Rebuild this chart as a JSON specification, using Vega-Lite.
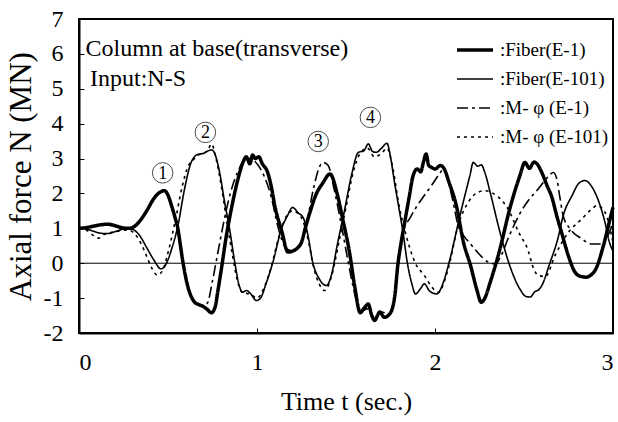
{
"$schema":"https://vega.github.io/schema/vega-lite/v6.json",
"width":534,"height":314,
"autosize":"none",
"padding":{"left":79,"top":19,"right":5,"bottom":89},
"background":"white",
"config":{
 "view":{"stroke":"black","strokeWidth":2},
 "font":"Liberation Serif",
 "axis":{"domainColor":"black","domainWidth":2,"tickColor":"black","labelColor":"black","titleColor":"black","grid":false,"labelFont":"Liberation Serif","titleFont":"Liberation Serif","titleFontWeight":"normal","labelFontSize":24,"titleFontSize":26,"tickSize":-5,"tickWidth":1,"labelOverlap":false,"labelSeparation":-20}
},
"datasets":{
 "circ":[{"t":0.47,"N":2.59,"k":"1"},{"t":0.71,"N":3.75,"k":"2"},{"t":1.344,"N":3.49,"k":"3"},{"t":1.637,"N":4.18,"k":"4"}],
 "notes":[{"t":0.037,"N":6.14,"txt":"Column at base(transverse)"},{"t":0.062,"N":5.28,"txt":"Input:N-S"}],
 "series":[
{"s":":Fiber(E-1)","t":0,"N":1.0},{"s":":Fiber(E-1)","t":0.04,"N":1.02},{"s":":Fiber(E-1)","t":0.08,"N":1.06},{"s":":Fiber(E-1)","t":0.12,"N":1.1},{"s":":Fiber(E-1)","t":0.16,"N":1.12},{"s":":Fiber(E-1)","t":0.2,"N":1.08},{"s":":Fiber(E-1)","t":0.24,"N":1.02},{"s":":Fiber(E-1)","t":0.28,"N":1.0},{"s":":Fiber(E-1)","t":0.31,"N":1.05},{"s":":Fiber(E-1)","t":0.34,"N":1.2},{"s":":Fiber(E-1)","t":0.38,"N":1.5},{"s":":Fiber(E-1)","t":0.42,"N":1.85},{"s":":Fiber(E-1)","t":0.46,"N":2.05},{"s":":Fiber(E-1)","t":0.48,"N":2.08},{"s":":Fiber(E-1)","t":0.5,"N":1.95},{"s":":Fiber(E-1)","t":0.52,"N":1.65},{"s":":Fiber(E-1)","t":0.54,"N":1.3},{"s":":Fiber(E-1)","t":0.556,"N":0.98},{"s":":Fiber(E-1)","t":0.57,"N":0.5},{"s":":Fiber(E-1)","t":0.584,"N":0.03},{"s":":Fiber(E-1)","t":0.61,"N":-0.64},{"s":":Fiber(E-1)","t":0.63,"N":-0.95},{"s":":Fiber(E-1)","t":0.65,"N":-1.12},{"s":":Fiber(E-1)","t":0.67,"N":-1.18},{"s":":Fiber(E-1)","t":0.69,"N":-1.22},{"s":":Fiber(E-1)","t":0.715,"N":-1.3},{"s":":Fiber(E-1)","t":0.744,"N":-1.42},{"s":":Fiber(E-1)","t":0.765,"N":-1.25},{"s":":Fiber(E-1)","t":0.78,"N":-0.8},{"s":":Fiber(E-1)","t":0.8,"N":-0.16},{"s":":Fiber(E-1)","t":0.828,"N":0.79},{"s":":Fiber(E-1)","t":0.856,"N":1.56},{"s":":Fiber(E-1)","t":0.893,"N":2.41},{"s":":Fiber(E-1)","t":0.921,"N":2.89},{"s":":Fiber(E-1)","t":0.94,"N":3.05},{"s":":Fiber(E-1)","t":0.96,"N":2.85},{"s":":Fiber(E-1)","t":0.975,"N":3.1},{"s":":Fiber(E-1)","t":0.99,"N":3.0},{"s":":Fiber(E-1)","t":1.01,"N":3.05},{"s":":Fiber(E-1)","t":1.03,"N":2.85},{"s":":Fiber(E-1)","t":1.06,"N":2.6},{"s":":Fiber(E-1)","t":1.08,"N":2.2},{"s":":Fiber(E-1)","t":1.1,"N":1.65},{"s":":Fiber(E-1)","t":1.14,"N":0.9},{"s":":Fiber(E-1)","t":1.174,"N":0.32},{"s":":Fiber(E-1)","t":1.2,"N":0.35},{"s":":Fiber(E-1)","t":1.23,"N":0.45},{"s":":Fiber(E-1)","t":1.25,"N":0.6},{"s":":Fiber(E-1)","t":1.27,"N":0.98},{"s":":Fiber(E-1)","t":1.3,"N":1.5},{"s":":Fiber(E-1)","t":1.33,"N":1.95},{"s":":Fiber(E-1)","t":1.37,"N":2.3},{"s":":Fiber(E-1)","t":1.41,"N":2.56},{"s":":Fiber(E-1)","t":1.45,"N":2.0},{"s":":Fiber(E-1)","t":1.48,"N":1.3},{"s":":Fiber(E-1)","t":1.52,"N":0.3},{"s":":Fiber(E-1)","t":1.55,"N":-0.7},{"s":":Fiber(E-1)","t":1.58,"N":-1.42},{"s":":Fiber(E-1)","t":1.6,"N":-1.3},{"s":":Fiber(E-1)","t":1.625,"N":-1.17},{"s":":Fiber(E-1)","t":1.645,"N":-1.5},{"s":":Fiber(E-1)","t":1.66,"N":-1.64},{"s":":Fiber(E-1)","t":1.69,"N":-1.4},{"s":":Fiber(E-1)","t":1.715,"N":-1.55},{"s":":Fiber(E-1)","t":1.737,"N":-1.5},{"s":":Fiber(E-1)","t":1.76,"N":-1.3},{"s":":Fiber(E-1)","t":1.775,"N":-0.9},{"s":":Fiber(E-1)","t":1.79,"N":-0.1},{"s":":Fiber(E-1)","t":1.81,"N":0.6},{"s":":Fiber(E-1)","t":1.83,"N":1.18},{"s":":Fiber(E-1)","t":1.855,"N":1.9},{"s":":Fiber(E-1)","t":1.877,"N":2.51},{"s":":Fiber(E-1)","t":1.9,"N":2.7},{"s":":Fiber(E-1)","t":1.92,"N":2.62},{"s":":Fiber(E-1)","t":1.935,"N":2.9},{"s":":Fiber(E-1)","t":1.95,"N":3.13},{"s":":Fiber(E-1)","t":1.965,"N":2.8},{"s":":Fiber(E-1)","t":1.98,"N":2.75},{"s":":Fiber(E-1)","t":2.0,"N":2.7},{"s":":Fiber(E-1)","t":2.03,"N":2.8},{"s":":Fiber(E-1)","t":2.05,"N":2.72},{"s":":Fiber(E-1)","t":2.08,"N":2.3},{"s":":Fiber(E-1)","t":2.12,"N":1.65},{"s":":Fiber(E-1)","t":2.16,"N":0.6},{"s":":Fiber(E-1)","t":2.2,"N":-0.07},{"s":":Fiber(E-1)","t":2.234,"N":-0.74},{"s":":Fiber(E-1)","t":2.26,"N":-1.12},{"s":":Fiber(E-1)","t":2.28,"N":-1.0},{"s":":Fiber(E-1)","t":2.31,"N":-0.55},{"s":":Fiber(E-1)","t":2.365,"N":0.41},{"s":":Fiber(E-1)","t":2.42,"N":1.56},{"s":":Fiber(E-1)","t":2.477,"N":2.51},{"s":":Fiber(E-1)","t":2.505,"N":2.89},{"s":":Fiber(E-1)","t":2.53,"N":2.72},{"s":":Fiber(E-1)","t":2.556,"N":2.9},{"s":":Fiber(E-1)","t":2.58,"N":2.8},{"s":":Fiber(E-1)","t":2.6,"N":2.6},{"s":":Fiber(E-1)","t":2.63,"N":2.22},{"s":":Fiber(E-1)","t":2.656,"N":1.9},{"s":":Fiber(E-1)","t":2.684,"N":1.36},{"s":":Fiber(E-1)","t":2.71,"N":0.9},{"s":":Fiber(E-1)","t":2.75,"N":0.2},{"s":":Fiber(E-1)","t":2.787,"N":-0.26},{"s":":Fiber(E-1)","t":2.82,"N":-0.38},{"s":":Fiber(E-1)","t":2.85,"N":-0.4},{"s":":Fiber(E-1)","t":2.88,"N":-0.32},{"s":":Fiber(E-1)","t":2.9,"N":-0.2},{"s":":Fiber(E-1)","t":2.946,"N":0.5},{"s":":Fiber(E-1)","t":2.98,"N":1.2},{"s":":Fiber(E-1)","t":3.0,"N":1.6},
{"s":":Fiber(E-101)","t":0,"N":1.0},{"s":":Fiber(E-101)","t":0.04,"N":0.98},{"s":":Fiber(E-101)","t":0.08,"N":0.92},{"s":":Fiber(E-101)","t":0.12,"N":0.86},{"s":":Fiber(E-101)","t":0.16,"N":0.85},{"s":":Fiber(E-101)","t":0.2,"N":0.9},{"s":":Fiber(E-101)","t":0.24,"N":0.97},{"s":":Fiber(E-101)","t":0.28,"N":1.0},{"s":":Fiber(E-101)","t":0.31,"N":0.95},{"s":":Fiber(E-101)","t":0.34,"N":0.8},{"s":":Fiber(E-101)","t":0.38,"N":0.45},{"s":":Fiber(E-101)","t":0.42,"N":0.1},{"s":":Fiber(E-101)","t":0.46,"N":-0.16},{"s":":Fiber(E-101)","t":0.48,"N":-0.1},{"s":":Fiber(E-101)","t":0.5,"N":0.1},{"s":":Fiber(E-101)","t":0.52,"N":0.4},{"s":":Fiber(E-101)","t":0.556,"N":1.08},{"s":":Fiber(E-101)","t":0.593,"N":2.13},{"s":":Fiber(E-101)","t":0.63,"N":2.89},{"s":":Fiber(E-101)","t":0.668,"N":3.12},{"s":":Fiber(E-101)","t":0.7,"N":3.15},{"s":":Fiber(E-101)","t":0.725,"N":3.22},{"s":":Fiber(E-101)","t":0.745,"N":3.25},{"s":":Fiber(E-101)","t":0.762,"N":3.15},{"s":":Fiber(E-101)","t":0.79,"N":2.6},{"s":":Fiber(E-101)","t":0.818,"N":1.75},{"s":":Fiber(E-101)","t":0.846,"N":0.98},{"s":":Fiber(E-101)","t":0.875,"N":0.03},{"s":":Fiber(E-101)","t":0.9,"N":-0.64},{"s":":Fiber(E-101)","t":0.92,"N":-0.83},{"s":":Fiber(E-101)","t":0.94,"N":-0.78},{"s":":Fiber(E-101)","t":0.96,"N":-0.85},{"s":":Fiber(E-101)","t":0.997,"N":-1.07},{"s":":Fiber(E-101)","t":1.02,"N":-1.0},{"s":":Fiber(E-101)","t":1.05,"N":-0.6},{"s":":Fiber(E-101)","t":1.09,"N":0.04},{"s":":Fiber(E-101)","t":1.137,"N":0.98},{"s":":Fiber(E-101)","t":1.17,"N":1.35},{"s":":Fiber(E-101)","t":1.2,"N":1.6},{"s":":Fiber(E-101)","t":1.23,"N":1.45},{"s":":Fiber(E-101)","t":1.26,"N":1.3},{"s":":Fiber(E-101)","t":1.29,"N":0.7},{"s":":Fiber(E-101)","t":1.31,"N":0.1},{"s":":Fiber(E-101)","t":1.35,"N":-0.45},{"s":":Fiber(E-101)","t":1.39,"N":-0.64},{"s":":Fiber(E-101)","t":1.42,"N":-0.3},{"s":":Fiber(E-101)","t":1.45,"N":0.5},{"s":":Fiber(E-101)","t":1.49,"N":1.47},{"s":":Fiber(E-101)","t":1.53,"N":2.5},{"s":":Fiber(E-101)","t":1.57,"N":3.18},{"s":":Fiber(E-101)","t":1.6,"N":3.22},{"s":":Fiber(E-101)","t":1.625,"N":3.42},{"s":":Fiber(E-101)","t":1.65,"N":3.2},{"s":":Fiber(E-101)","t":1.67,"N":3.18},{"s":":Fiber(E-101)","t":1.7,"N":3.3},{"s":":Fiber(E-101)","t":1.73,"N":3.44},{"s":":Fiber(E-101)","t":1.75,"N":3.05},{"s":":Fiber(E-101)","t":1.77,"N":2.4},{"s":":Fiber(E-101)","t":1.8,"N":1.5},{"s":":Fiber(E-101)","t":1.82,"N":0.9},{"s":":Fiber(E-101)","t":1.845,"N":0.0},{"s":":Fiber(E-101)","t":1.87,"N":-0.59},{"s":":Fiber(E-101)","t":1.89,"N":-0.88},{"s":":Fiber(E-101)","t":1.92,"N":-0.72},{"s":":Fiber(E-101)","t":1.94,"N":-0.59},{"s":":Fiber(E-101)","t":1.97,"N":-0.8},{"s":":Fiber(E-101)","t":2.01,"N":-0.88},{"s":":Fiber(E-101)","t":2.05,"N":-0.5},{"s":":Fiber(E-101)","t":2.084,"N":0.12},{"s":":Fiber(E-101)","t":2.14,"N":1.36},{"s":":Fiber(E-101)","t":2.196,"N":2.51},{"s":":Fiber(E-101)","t":2.215,"N":2.89},{"s":":Fiber(E-101)","t":2.24,"N":2.78},{"s":":Fiber(E-101)","t":2.26,"N":2.82},{"s":":Fiber(E-101)","t":2.28,"N":2.6},{"s":":Fiber(E-101)","t":2.31,"N":2.03},{"s":":Fiber(E-101)","t":2.365,"N":0.89},{"s":":Fiber(E-101)","t":2.42,"N":-0.07},{"s":":Fiber(E-101)","t":2.477,"N":-0.74},{"s":":Fiber(E-101)","t":2.51,"N":-0.95},{"s":":Fiber(E-101)","t":2.535,"N":-0.97},{"s":":Fiber(E-101)","t":2.56,"N":-0.82},{"s":":Fiber(E-101)","t":2.585,"N":-0.75},{"s":":Fiber(E-101)","t":2.6,"N":-0.64},{"s":":Fiber(E-101)","t":2.645,"N":0.0},{"s":":Fiber(E-101)","t":2.69,"N":0.7},{"s":":Fiber(E-101)","t":2.72,"N":1.36},{"s":":Fiber(E-101)","t":2.77,"N":1.94},{"s":":Fiber(E-101)","t":2.81,"N":2.3},{"s":":Fiber(E-101)","t":2.843,"N":2.37},{"s":":Fiber(E-101)","t":2.88,"N":2.2},{"s":":Fiber(E-101)","t":2.91,"N":1.9},{"s":":Fiber(E-101)","t":2.955,"N":1.17},{"s":":Fiber(E-101)","t":2.98,"N":0.6},{"s":":Fiber(E-101)","t":3.0,"N":0.35},
{"s":":M- φ (E-1)","t":0,"N":1.0},{"s":":M- φ (E-1)","t":0.04,"N":1.02},{"s":":M- φ (E-1)","t":0.08,"N":1.08},{"s":":M- φ (E-1)","t":0.12,"N":1.12},{"s":":M- φ (E-1)","t":0.16,"N":1.1},{"s":":M- φ (E-1)","t":0.2,"N":1.05},{"s":":M- φ (E-1)","t":0.24,"N":1.0},{"s":":M- φ (E-1)","t":0.28,"N":1.0},{"s":":M- φ (E-1)","t":0.31,"N":1.05},{"s":":M- φ (E-1)","t":0.34,"N":1.2},{"s":":M- φ (E-1)","t":0.38,"N":1.5},{"s":":M- φ (E-1)","t":0.42,"N":1.85},{"s":":M- φ (E-1)","t":0.46,"N":2.08},{"s":":M- φ (E-1)","t":0.48,"N":2.1},{"s":":M- φ (E-1)","t":0.5,"N":1.95},{"s":":M- φ (E-1)","t":0.52,"N":1.6},{"s":":M- φ (E-1)","t":0.556,"N":0.9},{"s":":M- φ (E-1)","t":0.584,"N":0.0},{"s":":M- φ (E-1)","t":0.61,"N":-0.6},{"s":":M- φ (E-1)","t":0.65,"N":-1.1},{"s":":M- φ (E-1)","t":0.69,"N":-1.2},{"s":":M- φ (E-1)","t":0.72,"N":-1.15},{"s":":M- φ (E-1)","t":0.75,"N":-0.5},{"s":":M- φ (E-1)","t":0.78,"N":0.3},{"s":":M- φ (E-1)","t":0.81,"N":1.1},{"s":":M- φ (E-1)","t":0.85,"N":2.0},{"s":":M- φ (E-1)","t":0.89,"N":2.6},{"s":":M- φ (E-1)","t":0.93,"N":2.95},{"s":":M- φ (E-1)","t":0.96,"N":3.0},{"s":":M- φ (E-1)","t":1.0,"N":2.85},{"s":":M- φ (E-1)","t":1.04,"N":2.5},{"s":":M- φ (E-1)","t":1.08,"N":1.9},{"s":":M- φ (E-1)","t":1.12,"N":1.0},{"s":":M- φ (E-1)","t":1.16,"N":0.45},{"s":":M- φ (E-1)","t":1.2,"N":0.35},{"s":":M- φ (E-1)","t":1.24,"N":0.5},{"s":":M- φ (E-1)","t":1.28,"N":1.2},{"s":":M- φ (E-1)","t":1.32,"N":2.2},{"s":":M- φ (E-1)","t":1.35,"N":2.75},{"s":":M- φ (E-1)","t":1.37,"N":2.89},{"s":":M- φ (E-1)","t":1.4,"N":2.8},{"s":":M- φ (E-1)","t":1.43,"N":2.2},{"s":":M- φ (E-1)","t":1.47,"N":1.2},{"s":":M- φ (E-1)","t":1.51,"N":0.1},{"s":":M- φ (E-1)","t":1.55,"N":-0.9},{"s":":M- φ (E-1)","t":1.58,"N":-1.4},{"s":":M- φ (E-1)","t":1.62,"N":-1.3},{"s":":M- φ (E-1)","t":1.66,"N":-1.55},{"s":":M- φ (E-1)","t":1.7,"N":-1.4},{"s":":M- φ (E-1)","t":1.74,"N":-1.45},{"s":":M- φ (E-1)","t":1.765,"N":-1.15},{"s":":M- φ (E-1)","t":1.79,"N":-0.1},{"s":":M- φ (E-1)","t":1.82,"N":0.9},{"s":":M- φ (E-1)","t":1.86,"N":1.3},{"s":":M- φ (E-1)","t":1.9,"N":1.65},{"s":":M- φ (E-1)","t":1.94,"N":1.94},{"s":":M- φ (E-1)","t":1.99,"N":2.3},{"s":":M- φ (E-1)","t":2.03,"N":2.6},{"s":":M- φ (E-1)","t":2.05,"N":2.72},{"s":":M- φ (E-1)","t":2.065,"N":2.51},{"s":":M- φ (E-1)","t":2.1,"N":1.8},{"s":":M- φ (E-1)","t":2.13,"N":1.08},{"s":":M- φ (E-1)","t":2.16,"N":0.8},{"s":":M- φ (E-1)","t":2.2,"N":0.55},{"s":":M- φ (E-1)","t":2.25,"N":0.25},{"s":":M- φ (E-1)","t":2.3,"N":0.03},{"s":":M- φ (E-1)","t":2.34,"N":-0.02},{"s":":M- φ (E-1)","t":2.37,"N":0.2},{"s":":M- φ (E-1)","t":2.41,"N":0.7},{"s":":M- φ (E-1)","t":2.47,"N":1.36},{"s":":M- φ (E-1)","t":2.524,"N":1.8},{"s":":M- φ (E-1)","t":2.58,"N":2.13},{"s":":M- φ (E-1)","t":2.63,"N":2.45},{"s":":M- φ (E-1)","t":2.665,"N":2.6},{"s":":M- φ (E-1)","t":2.685,"N":2.4},{"s":":M- φ (E-1)","t":2.7,"N":1.94},{"s":":M- φ (E-1)","t":2.72,"N":1.36},{"s":":M- φ (E-1)","t":2.76,"N":0.98},{"s":":M- φ (E-1)","t":2.825,"N":0.7},{"s":":M- φ (E-1)","t":2.88,"N":0.55},{"s":":M- φ (E-1)","t":2.93,"N":0.55},{"s":":M- φ (E-1)","t":2.98,"N":0.89},{"s":":M- φ (E-1)","t":3.0,"N":1.15},
{"s":":M- φ (E-101)","t":0,"N":1.0},{"s":":M- φ (E-101)","t":0.04,"N":0.95},{"s":":M- φ (E-101)","t":0.08,"N":0.8},{"s":":M- φ (E-101)","t":0.11,"N":0.72},{"s":":M- φ (E-101)","t":0.14,"N":0.82},{"s":":M- φ (E-101)","t":0.18,"N":0.88},{"s":":M- φ (E-101)","t":0.22,"N":0.92},{"s":":M- φ (E-101)","t":0.26,"N":0.95},{"s":":M- φ (E-101)","t":0.29,"N":0.93},{"s":":M- φ (E-101)","t":0.32,"N":0.8},{"s":":M- φ (E-101)","t":0.35,"N":0.55},{"s":":M- φ (E-101)","t":0.38,"N":0.2},{"s":":M- φ (E-101)","t":0.41,"N":-0.15},{"s":":M- φ (E-101)","t":0.44,"N":-0.34},{"s":":M- φ (E-101)","t":0.47,"N":-0.2},{"s":":M- φ (E-101)","t":0.5,"N":0.3},{"s":":M- φ (E-101)","t":0.54,"N":1.2},{"s":":M- φ (E-101)","t":0.58,"N":2.2},{"s":":M- φ (E-101)","t":0.61,"N":2.75},{"s":":M- φ (E-101)","t":0.64,"N":2.95},{"s":":M- φ (E-101)","t":0.67,"N":3.1},{"s":":M- φ (E-101)","t":0.7,"N":3.15},{"s":":M- φ (E-101)","t":0.725,"N":3.25},{"s":":M- φ (E-101)","t":0.744,"N":3.42},{"s":":M- φ (E-101)","t":0.77,"N":3.0},{"s":":M- φ (E-101)","t":0.8,"N":2.2},{"s":":M- φ (E-101)","t":0.83,"N":1.2},{"s":":M- φ (E-101)","t":0.86,"N":0.3},{"s":":M- φ (E-101)","t":0.89,"N":-0.5},{"s":":M- φ (E-101)","t":0.92,"N":-0.85},{"s":":M- φ (E-101)","t":0.96,"N":-0.88},{"s":":M- φ (E-101)","t":1.0,"N":-1.0},{"s":":M- φ (E-101)","t":1.04,"N":-0.7},{"s":":M- φ (E-101)","t":1.08,"N":-0.1},{"s":":M- φ (E-101)","t":1.12,"N":0.7},{"s":":M- φ (E-101)","t":1.16,"N":1.3},{"s":":M- φ (E-101)","t":1.2,"N":1.5},{"s":":M- φ (E-101)","t":1.25,"N":1.3},{"s":":M- φ (E-101)","t":1.29,"N":0.6},{"s":":M- φ (E-101)","t":1.32,"N":-0.15},{"s":":M- φ (E-101)","t":1.35,"N":-0.6},{"s":":M- φ (E-101)","t":1.38,"N":-0.78},{"s":":M- φ (E-101)","t":1.42,"N":-0.35},{"s":":M- φ (E-101)","t":1.46,"N":0.6},{"s":":M- φ (E-101)","t":1.5,"N":1.6},{"s":":M- φ (E-101)","t":1.54,"N":2.6},{"s":":M- φ (E-101)","t":1.58,"N":3.15},{"s":":M- φ (E-101)","t":1.62,"N":3.3},{"s":":M- φ (E-101)","t":1.66,"N":3.05},{"s":":M- φ (E-101)","t":1.7,"N":3.15},{"s":":M- φ (E-101)","t":1.73,"N":3.3},{"s":":M- φ (E-101)","t":1.76,"N":2.8},{"s":":M- φ (E-101)","t":1.8,"N":1.6},{"s":":M- φ (E-101)","t":1.83,"N":0.95},{"s":":M- φ (E-101)","t":1.887,"N":0.03},{"s":":M- φ (E-101)","t":1.94,"N":-0.35},{"s":":M- φ (E-101)","t":2.0,"N":-0.78},{"s":":M- φ (E-101)","t":2.02,"N":-0.83},{"s":":M- φ (E-101)","t":2.074,"N":-0.16},{"s":":M- φ (E-101)","t":2.13,"N":1.08},{"s":":M- φ (E-101)","t":2.187,"N":1.75},{"s":":M- φ (E-101)","t":2.23,"N":2.0},{"s":":M- φ (E-101)","t":2.28,"N":2.08},{"s":":M- φ (E-101)","t":2.32,"N":2.02},{"s":":M- φ (E-101)","t":2.355,"N":1.9},{"s":":M- φ (E-101)","t":2.41,"N":1.56},{"s":":M- φ (E-101)","t":2.47,"N":0.89},{"s":":M- φ (E-101)","t":2.524,"N":0.35},{"s":":M- φ (E-101)","t":2.55,"N":-0.1},{"s":":M- φ (E-101)","t":2.58,"N":-0.35},{"s":":M- φ (E-101)","t":2.62,"N":-0.38},{"s":":M- φ (E-101)","t":2.674,"N":0.22},{"s":":M- φ (E-101)","t":2.75,"N":0.89},{"s":":M- φ (E-101)","t":2.825,"N":1.27},{"s":":M- φ (E-101)","t":2.88,"N":1.55},{"s":":M- φ (E-101)","t":2.91,"N":1.65},{"s":":M- φ (E-101)","t":2.955,"N":1.46},{"s":":M- φ (E-101)","t":3.0,"N":0.6}
 ]
},
"layer":[
 {"data":{"name":"series"},
  "mark":{"type":"line","color":"black","interpolate":"monotone","strokeJoin":"round"},
  "encoding":{
   "x":{"field":"t","type":"quantitative","scale":{"domain":[0,3],"nice":false},
        "axis":{"values":[0,1,2,3],"labelExpr":"'' + datum.value","title":"Time t (sec.)","labelPadding":22,"titlePadding":14,"labelOverlap":false}},
   "y":{"field":"N","type":"quantitative","scale":{"domain":[-2,7],"nice":false},
        "axis":{"values":[-2,-1,0,1,2,3,4,5,6,7],"tickCount":10,"labelExpr":"'' + datum.value","title":"Axial force N (MN)","titleFontSize":31,"labelPadding":21,"titlePadding":6,"labelOverlap":false,"labelSeparation":-20,"labelBound":false}},
   "strokeDash":{"field":"s","type":"nominal",
     "scale":{"domain":[":Fiber(E-1)",":Fiber(E-101)",":M- φ (E-1)",":M- φ (E-101)"],"range":[[1,0],[1,0],[11,4,3,4],[3,4]]},
     "legend":{"orient":"none","legendX":376,"legendY":11,"title":null,"symbolType":"stroke","symbolSize":1296,"symbolStrokeColor":"black","labelFont":"Liberation Serif","labelFontSize":19,"labelColor":"black","labelOffset":5,"rowPadding":-9,"padding":0,"labelLimit":300}},
   "strokeWidth":{"field":"s","type":"nominal",
     "scale":{"type":"ordinal","domain":[":Fiber(E-1)",":Fiber(E-101)",":M- φ (E-1)",":M- φ (E-101)"],"range":[3.5,1.6,1.6,1.6]},
     "legend":{"orient":"none","legendX":376,"legendY":11,"title":null,"symbolType":"stroke","symbolSize":1296,"symbolStrokeColor":"black","labelFont":"Liberation Serif","labelFontSize":19,"labelColor":"black","labelOffset":5,"rowPadding":-9,"padding":0,"labelLimit":300}}
  }},
 {"data":{"values":[{"N":0}]},"mark":{"type":"rule","color":"black","strokeWidth":1},
  "encoding":{"y":{"field":"N","type":"quantitative"}}},
 {"data":{"name":"circ"},"mark":{"type":"point","shape":"circle","filled":false,"stroke":"black","strokeWidth":1,"size":420},
  "encoding":{"x":{"field":"t","type":"quantitative"},"y":{"field":"N","type":"quantitative"}}},
 {"data":{"name":"circ"},"mark":{"type":"text","font":"Liberation Serif","fontSize":18,"color":"black","baseline":"middle","align":"center","dy":1},
  "encoding":{"x":{"field":"t","type":"quantitative"},"y":{"field":"N","type":"quantitative"},"text":{"field":"k"}}},
 {"data":{"name":"notes"},"mark":{"type":"text","font":"Liberation Serif","fontSize":24,"color":"black","baseline":"middle","align":"left"},
  "encoding":{"x":{"field":"t","type":"quantitative"},"y":{"field":"N","type":"quantitative"},"text":{"field":"txt"}}}
]
}
